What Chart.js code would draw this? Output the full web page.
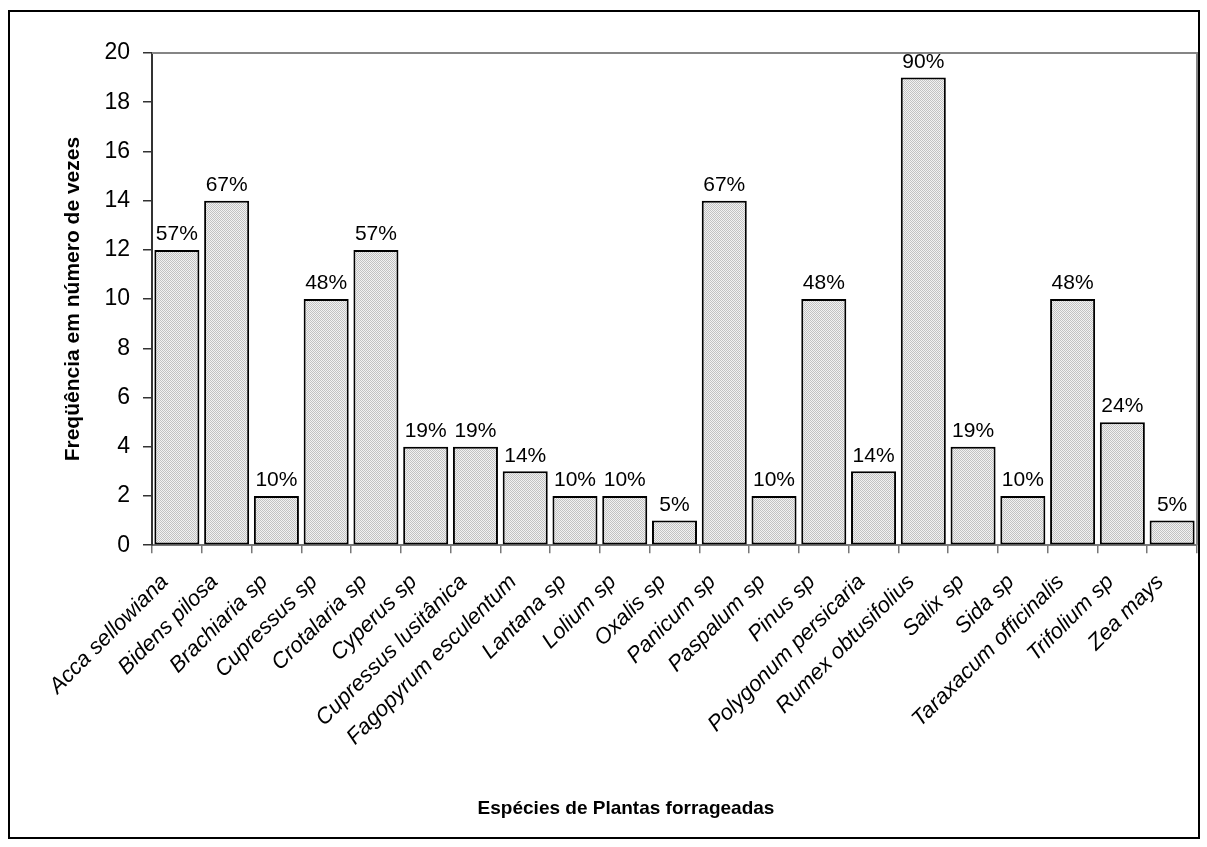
<!DOCTYPE html>
<html>
<head>
<meta charset="utf-8">
<script src="https://cdn.jsdelivr.net/npm/chart.js@4.4.0/dist/chart.umd.min.js"></script>
<style>
  html, body { margin: 0; padding: 0; background: #fff; }
  #wrap { width: 1207px; height: 847px; }
</style>
</head>
<body>
<div id="wrap"><canvas id="chartSpecies" width="1207" height="847"></canvas></div>
<script>
'use strict';

// ---- data ---------------------------------------------------
const species = [
    'Acca sellowiana', 'Bidens pilosa', 'Brachiaria sp', 'Cupressus sp',
    'Crotalaria sp', 'Cyperus sp', 'Cupressus lusitânica', 'Fagopyrum esculentum',
    'Lantana sp', 'Lolium sp', 'Oxalis sp', 'Panicum sp', 'Paspalum sp',
    'Pinus sp', 'Polygonum persicaria', 'Rumex obtusifolius', 'Salix sp',
    'Sida sp', 'Taraxacum officinalis', 'Trifolium sp', 'Zea mays'
];
const counts   = [12, 14, 2, 10, 12, 4, 4, 3, 2, 2, 1, 14, 2, 10, 3, 19, 4, 2, 10, 5, 1];
const percents = [57, 67, 10, 48, 57, 19, 19, 14, 10, 10, 5, 67, 10, 48, 14, 90, 19, 10, 48, 24, 5];

const Y_MIN = 0, Y_MAX = 20, Y_STEP = 2;
const FONT = "'Liberation Sans', Arial, sans-serif";

Chart.defaults.font.family = FONT;
Chart.defaults.color = '#000';

// fine dotted grey fill, like the old Excel pattern
function dotPattern() {
    const c = document.createElement('canvas');
    c.width = 2; c.height = 2;
    const g = c.getContext('2d');
    g.fillStyle = '#f2f2f2';
    g.fillRect(0, 0, 2, 2);
    g.fillStyle = '#c2c2c2';
    g.fillRect(0, 0, 1, 1);
    g.fillRect(1, 1, 1, 1);
    return g.createPattern(c, 'repeat');
}

// outer frame + top/right plot border
const framePlugin = {
    id: 'frame',
    beforeDraw(chart) {
        const ctx = chart.ctx;
        ctx.save();
        ctx.fillStyle = '#fff';
        ctx.fillRect(0, 0, chart.width, chart.height);
        ctx.strokeStyle = '#000';
        ctx.lineWidth = 2;
        ctx.strokeRect(9, 11, 1190, 827);
        ctx.restore();
    },
    beforeDatasetsDraw(chart) {
        const { ctx, chartArea: a } = chart;
        ctx.save();
        ctx.strokeStyle = '#858585';
        ctx.lineWidth = 2;
        ctx.beginPath();
        ctx.moveTo(a.left, a.top);
        ctx.lineTo(a.right, a.top);
        ctx.lineTo(a.right, a.bottom);
        ctx.stroke();
        ctx.restore();
    }
};

// percentage above each bar
const percentLabels = {
    id: 'percentLabels',
    afterDatasetsDraw(chart) {
        const ctx = chart.ctx;
        const meta = chart.getDatasetMeta(0);
        ctx.save();
        ctx.font = '21px ' + FONT;
        ctx.fillStyle = '#000';
        ctx.textAlign = 'center';
        ctx.textBaseline = 'bottom';
        meta.data.forEach((bar, i) => {
            ctx.fillText(percents[i] + '%', bar.x, bar.y - 5);
        });
        ctx.restore();
    }
};

const ctx = document.getElementById('chartSpecies');

new Chart(ctx, {
    type: 'bar',
    data: {
        labels: species,
        datasets: [{
            label: 'Freqüência',
            data: counts,
            backgroundColor: dotPattern(),
            borderColor: '#000',
            borderWidth: 2,
            borderSkipped: false,
            categoryPercentage: 1.0,
            barPercentage: 0.905,
        }],
    },
    options: {
        responsive: false,
        animation: false,
        events: [],
        layout: { padding: { top: 53, left: 55, right: 10, bottom: 0 } },
        plugins: {
            legend: { display: false },
            tooltip: { enabled: false },
            title: {
                display: true,
                position: 'bottom',
                text: 'Espécies de Plantas forrageadas',
                font: { size: 19, weight: 'bold' },
                color: '#000',
                padding: { top: 0, bottom: 27 },
            },
        },
        scales: {
            x: {
                afterFit(scale) {
                    scale.height = 252;
                    scale.paddingLeft = 0;
                    scale.paddingRight = 0;
                },
                border: { display: true, color: '#777', width: 2 },
                grid: { display: true, drawOnChartArea: false, drawTicks: true, tickLength: 8, color: '#777', lineWidth: 1.5 },
                ticks: {
                    autoSkip: false,
                    minRotation: 45,
                    maxRotation: 45,
                    padding: 16,
                    labelOffset: -12,
                    font: { size: 22, style: 'italic' },
                    color: '#000',
                },
            },
            y: {
                min: Y_MIN,
                max: Y_MAX,
                afterFit(scale) { scale.width = 97; },
                border: { display: true, color: '#333', width: 2 },
                grid: { display: true, drawOnChartArea: false, drawTicks: true, tickLength: 9, color: '#333', lineWidth: 1.5 },
                ticks: {
                    stepSize: Y_STEP,
                    padding: 13,
                    font: { size: 23 },
                    color: '#000',
                },
                title: {
                    display: true,
                    text: 'Freqüência em número de vezes',
                    font: { size: 21, weight: 'bold' },
                    color: '#000',
                    padding: { top: 6, bottom: 0 },
                },
            },
        },
    },
    plugins: [framePlugin, percentLabels],
});
</script>
</body>
</html>
